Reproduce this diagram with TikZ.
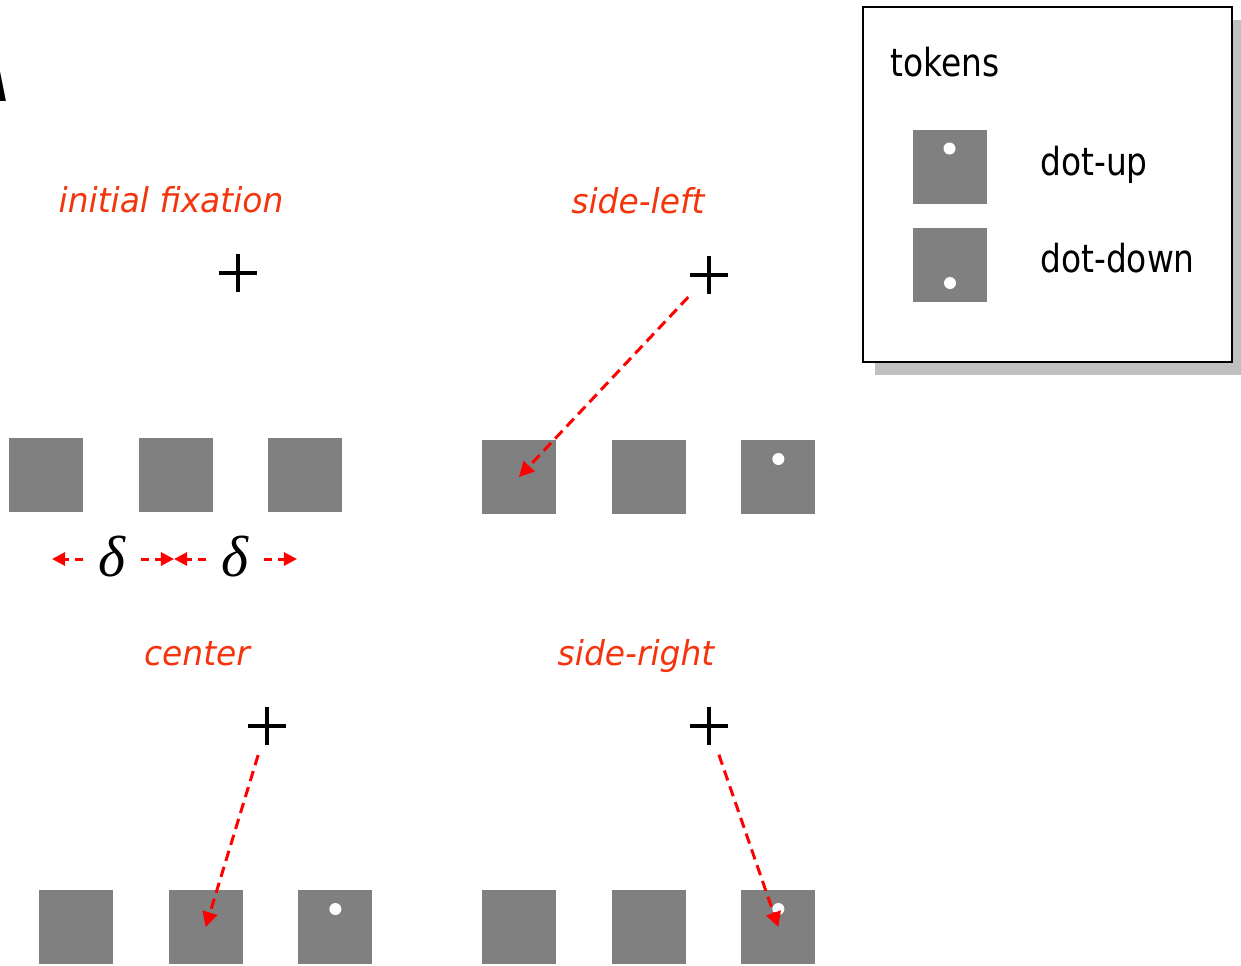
\documentclass[tikz,border=0pt]{standalone}
\usepackage{fontspec}
\usetikzlibrary{arrows.meta}
\usetikzlibrary{positioning}
\usetikzlibrary{shadows}
\newfontfamily\labelfont[FakeStretch=0.96]{DejaVu Sans}
\newfontfamily\legendfont[FakeStretch=0.85]{DejaVu Sans}
\newfontfamily\deltafont{Liberation Serif}
\newfontfamily\panelfont{Liberation Sans}
\definecolor{tokgray}{RGB}{128,128,128}
\definecolor{condred}{RGB}{244,52,12}
\definecolor{shadowgray}{RGB}{192,192,192}
\tikzset{token/.style={fill=tokgray, minimum size=1.48cm, inner sep=0}}
\tikzset{dotup/.style={token, path picture={\fill[white] ([yshift=0.36cm]path picture bounding box.center) circle (0.12cm);}}}
\tikzset{dotdown/.style={token, path picture={\fill[white] ([yshift=-0.36cm]path picture bounding box.center) circle (0.12cm);}}}
\tikzset{
    fixcross/.style={
            circle, minimum size=1.2cm, inner sep=0,
            path picture={
                    \draw[line width=2.7pt] ([xshift=-0.38cm]path picture bounding box.center) -- ([xshift=0.38cm]path picture bounding box.center);
                    \draw[line width=2.7pt] ([yshift=-0.38cm]path picture bounding box.center) -- ([yshift=0.38cm]path picture bounding box.center);
                }
        }
}
\tikzset{condition/.style={anchor=base, inner sep=0, text=condred, font=\labelfont\itshape\fontsize{19.5}{22}\selectfont}}
\tikzset{legendtext/.style={anchor=base west, inner sep=0, font=\legendfont\fontsize{22}{26}\selectfont}}
\tikzset{gaze/.style={-{Triangle[length=8.5pt,width=8.5pt]}, red, line width=1.7pt, dash pattern=on 6pt off 3.5pt}}
\tikzset{spacing/.style={-{Triangle[length=7.5pt,width=7.5pt]}, red, line width=1.7pt, dash pattern=on 4.5pt off 3.5pt}}

\begin{document}
\begin{tikzpicture}[x=0.02cm, y=-0.02cm]
            \useasboundingbox (0,0) rectangle (1241,965);
            \node[anchor=south east, inner sep=0, font=\panelfont\bfseries\fontsize{46}{46}\selectfont] (panel) at (8,102) {\scalebox{0.55}[1]{A}};
            % initial fixation
            \node[condition] (lab1) at (171,212) {initial fixation};
            \node[fixcross] (fx1) at (238,273) {};
            \node[token] (a1) at (46,475) {};
            \node[token, right = 1.1cm of a1] (a2) {};
            \node[token, right = 1.1cm of a2] (a3) {};
            \node[inner sep=0, font=\deltafont\itshape\fontsize{33}{33}\selectfont] (delta1) at (112,557) {δ};
            \node[inner sep=0, font=\deltafont\itshape\fontsize{33}{33}\selectfont] (delta2) at (235,557) {δ};
            \coordinate (da) at (52,559);
            \coordinate (db) at (174,559);
            \coordinate (dc) at (297,559);
            \draw[spacing] ([xshift=-0.3cm]delta1.west |- da) -- (da);
            \draw[spacing] ([xshift=0.3cm]delta1.east |- db) -- (db);
            \draw[spacing] ([xshift=-0.3cm]delta2.west |- db) -- (db);
            \draw[spacing] ([xshift=0.3cm]delta2.east |- dc) -- (dc);
            % side-left
            \node[condition] (lab2) at (638,213) {side-left};
            \node[fixcross] (fx2) at (709,275) {};
            \node[token] (b1) at (519,477) {};
            \node[token, right = 1.1cm of b1] (b2) {};
            \node[dotup, right = 1.1cm of b2] (b3) {};
            \draw[gaze] (fx2) -- (b1.center);
            % center
            \node[condition] (lab3) at (197,665) {center};
            \node[fixcross] (fx3) at (267,726) {};
            \node[token] (c1) at (76,927) {};
            \node[token, right = 1.1cm of c1] (c2) {};
            \node[dotup, right = 1.1cm of c2] (c3) {};
            \draw[gaze] (fx3) -- (c2.center);
            % side-right
            \node[condition] (lab4) at (636,665) {side-right};
            \node[fixcross] (fx4) at (709,726) {};
            \node[token] (d1) at (519,927) {};
            \node[token, right = 1.1cm of d1] (d2) {};
            \node[dotup, right = 1.1cm of d2] (d3) {};
            \draw[gaze] (fx4) -- (d3.center);
            % legend
            \node[draw, line width=1pt, fill=white, minimum width=7.38cm, minimum height=7.1cm,
                drop shadow={shadow xshift=0.24cm, shadow yshift=-0.26cm, fill=shadowgray, opacity=1}] (legend) at (1047.5,184.5) {};
            \node[legendtext] (tokens) at (890,76) {tokens};
            \node[dotup] (k1) at (949.5,166.5) {};
            \node[dotdown] (k2) at (950,265) {};
            \node[legendtext] (up) at (1040,175) {dot-up};
            \node[legendtext] (down) at (1040,272) {dot-down};
        \end{tikzpicture}
\end{document}
